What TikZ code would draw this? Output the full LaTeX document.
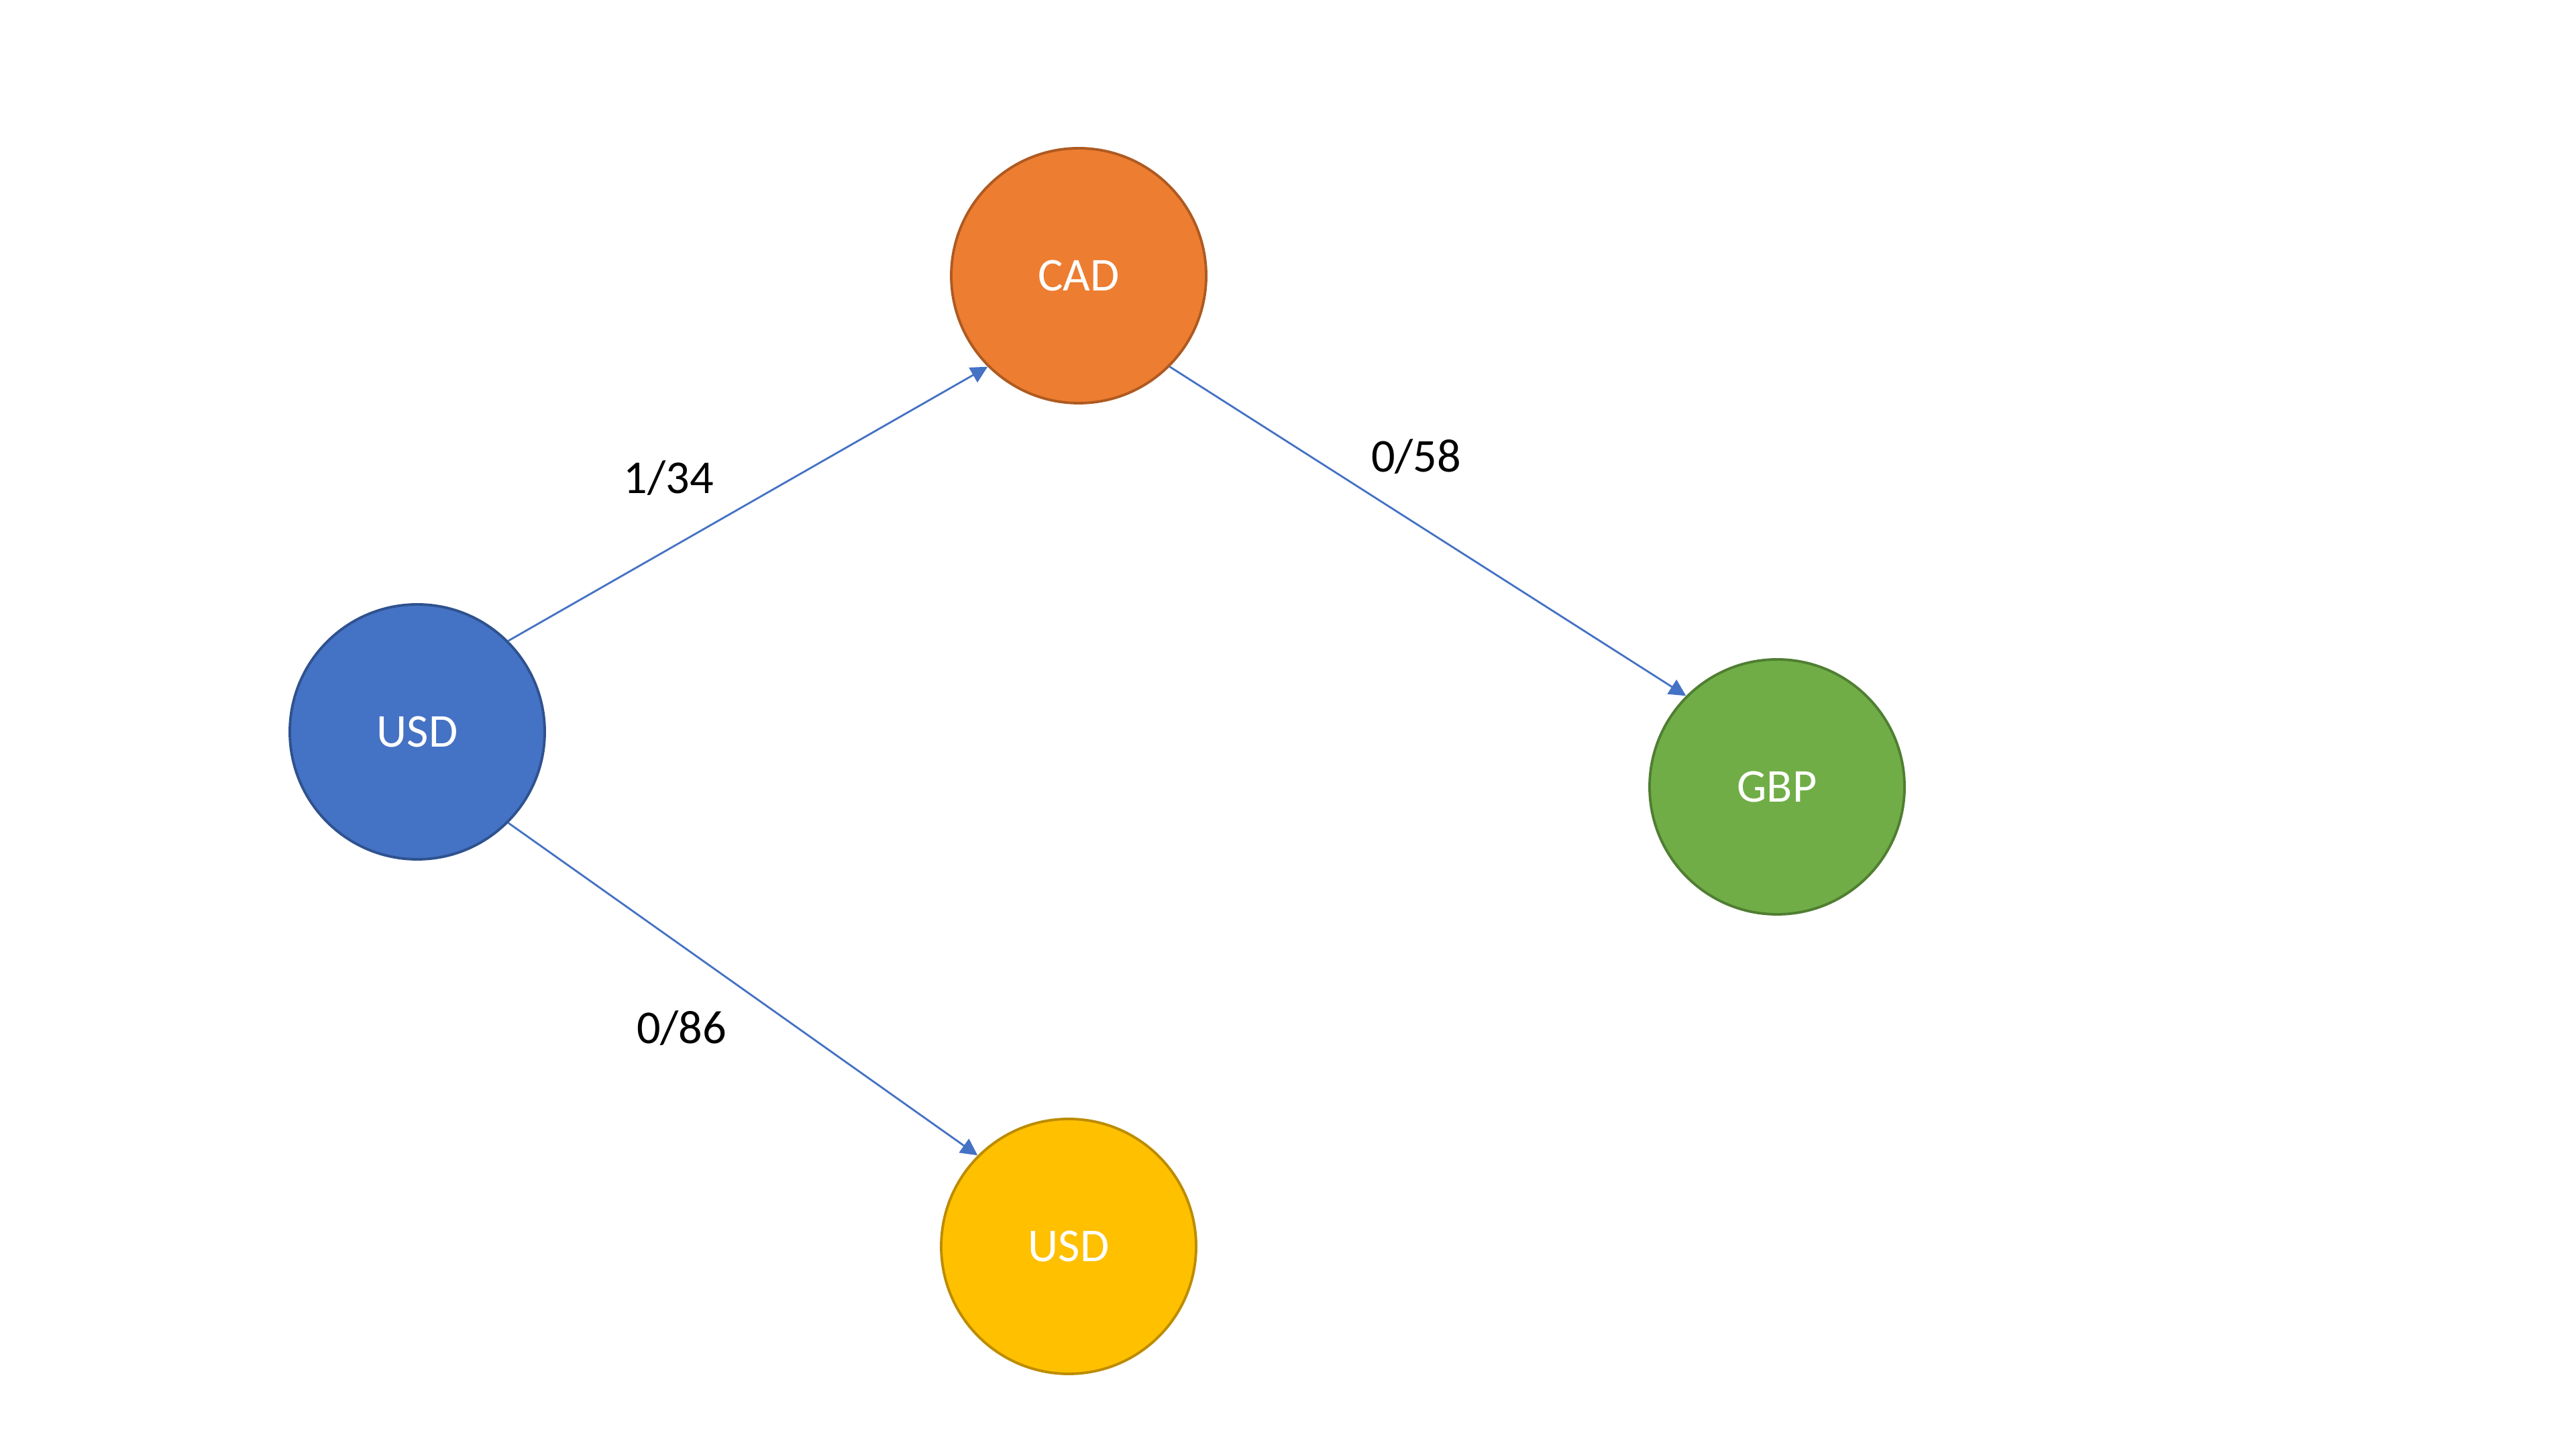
\documentclass[tikz,border=0pt]{standalone}
\usepackage{fontspec}
\setmainfont{Carlito}
\usetikzlibrary{arrows.meta}
\definecolor{cblue}{HTML}{4472C4}
\definecolor{cblueb}{HTML}{2F528F}
\definecolor{corange}{HTML}{ED7D31}
\definecolor{coranger}{HTML}{AE5A21}
\definecolor{cgreen}{HTML}{70AD47}
\definecolor{cgreenb}{HTML}{507E32}
\definecolor{cyellow}{HTML}{FFC000}
\definecolor{cyellowb}{HTML}{BC8C00}
\tikzset{
  cur/.style={circle, minimum size=3.8cm, inner sep=0pt, line width=1.1pt, text=white, font=\fontsize{20}{24}\selectfont},
  conn/.style={draw=cblue, line width=0.8pt, -{Triangle[length=0.25cm,width=0.25cm]}},
  lab/.style={font=\fontsize{20}{24}\selectfont, text=black}
}
\begin{document}
\begin{tikzpicture}
\useasboundingbox (0,0) rectangle (38.4,21.6);
\node[cur, fill=cblue, draw=cblueb] (usd) at (6.22,10.69) {USD};
\node[cur, fill=corange, draw=coranger] (cad) at (16.08,17.49) {CAD};
\node[cur, fill=cgreen, draw=cgreenb] (gbp) at (26.49,9.87) {GBP};
\node[cur, fill=cyellow, draw=cyellowb] (usd2) at (15.93,3.02) {USD};
\draw[conn] (usd.north east) -- (cad.south west);
\draw[conn] (cad.south east) -- (gbp.north west);
\draw[conn] (usd.south east) -- (usd2.north west);
\node[lab] (l1) at (9.97,14.47) {1/34};
\node[lab] (l2) at (21.11,14.79) {0/58};
\node[lab] (l3) at (10.16,6.27) {0/86};
\end{tikzpicture}
\end{document}
